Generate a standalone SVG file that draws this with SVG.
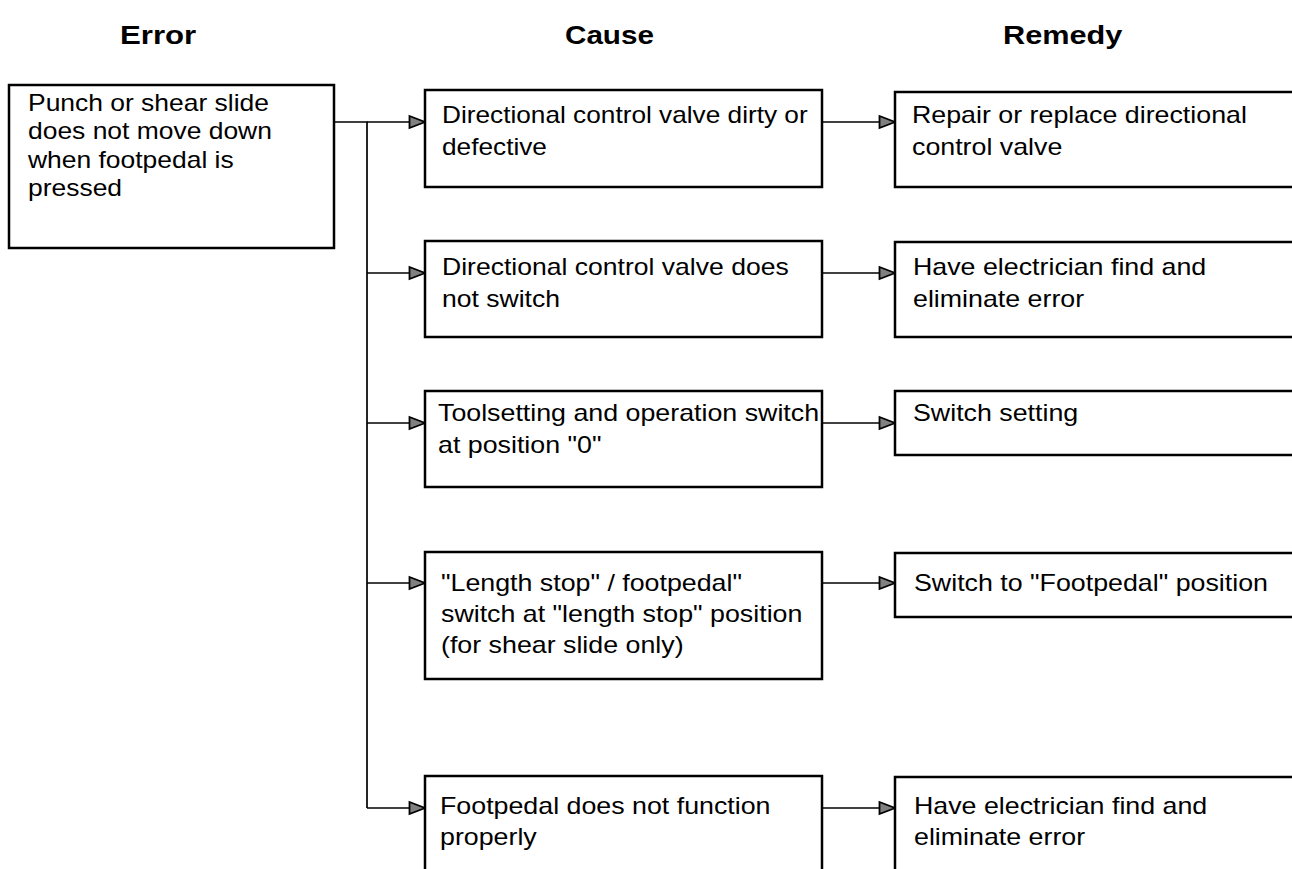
<svg xmlns="http://www.w3.org/2000/svg" width="1292" height="869" viewBox="0 0 1292 869">
<style>
.box{fill:#fff;stroke:#000;stroke-width:2.5}
.t{font-family:"Liberation Sans",Arial,sans-serif;font-size:23px;fill:#000}
.h{font-family:"Liberation Sans",Arial,sans-serif;font-size:26px;font-weight:bold;fill:#000}
.c{fill:none;stroke:#000;stroke-width:1.7}
</style>
<defs>
<marker id="arr" markerUnits="userSpaceOnUse" markerWidth="20" markerHeight="16" refX="17" refY="8" orient="auto">
<path d="M1.5,2 L17,8 L1.5,14 Z" fill="#808080" stroke="#000" stroke-width="1.8" stroke-linejoin="miter"/>
</marker>
</defs>
<rect width="1292" height="869" fill="#fff"/>
<g id="headers">
<text class="h" transform="translate(120 44) scale(1.2 1)">Error</text>
<text class="h" transform="translate(565 44) scale(1.14 1)">Cause</text>
<text class="h" transform="translate(1003 44) scale(1.18 1)">Remedy</text>
</g>
<g id="connectors">
<path class="c" d="M334,122 H367 V808"/>
<path class="c" d="M367,122 H425" marker-end="url(#arr)"/>
<path class="c" d="M367,273 H425" marker-end="url(#arr)"/>
<path class="c" d="M367,423 H425" marker-end="url(#arr)"/>
<path class="c" d="M367,583 H425" marker-end="url(#arr)"/>
<path class="c" d="M367,808 H425" marker-end="url(#arr)"/>
<path class="c" d="M822,122 H895" marker-end="url(#arr)"/>
<path class="c" d="M822,273 H895" marker-end="url(#arr)"/>
<path class="c" d="M822,423 H895" marker-end="url(#arr)"/>
<path class="c" d="M822,583 H895" marker-end="url(#arr)"/>
<path class="c" d="M822,808 H895" marker-end="url(#arr)"/>
</g>
<g id="error">
<rect class="box" x="9" y="85" width="325" height="163"/>
<text class="t" transform="translate(28 111) scale(1.15 1)"><tspan x="0" y="0">Punch or shear slide</tspan><tspan x="0" y="28.5">does not move down</tspan><tspan x="0" y="57">when footpedal is</tspan><tspan x="0" y="85.5">pressed</tspan></text>
</g>
<g id="cause1">
<rect class="box" x="425" y="90" width="397" height="97"/>
<text class="t" transform="translate(442 123) scale(1.14 1)"><tspan x="0" y="0">Directional control valve dirty or</tspan><tspan x="0" y="32">defective</tspan></text>
</g>
<g id="cause2">
<rect class="box" x="425" y="241" width="397" height="96"/>
<text class="t" transform="translate(442 275) scale(1.155 1)"><tspan x="0" y="0">Directional control valve does</tspan><tspan x="0" y="32">not switch</tspan></text>
</g>
<g id="cause3">
<rect class="box" x="425" y="391" width="397" height="96"/>
<text class="t" transform="translate(438 421) scale(1.165 1)"><tspan x="0" y="0">Toolsetting and operation switch</tspan><tspan x="0" y="32">at position "0"</tspan></text>
</g>
<g id="cause4">
<rect class="box" x="425" y="552" width="397" height="127"/>
<text class="t" transform="translate(441 591) scale(1.165 1)"><tspan x="0" y="0">"Length stop" / footpedal"</tspan><tspan x="0" y="31">switch at "length stop" position</tspan><tspan x="0" y="62">(for shear slide only)</tspan></text>
</g>
<g id="cause5">
<rect class="box" x="425" y="776" width="397" height="120"/>
<text class="t" transform="translate(440 814) scale(1.165 1)"><tspan x="0" y="0">Footpedal does not function</tspan><tspan x="0" y="31">properly</tspan></text>
</g>
<g id="remedy1">
<rect class="box" x="895" y="92" width="420" height="95"/>
<text class="t" transform="translate(912 123) scale(1.165 1)"><tspan x="0" y="0">Repair or replace directional</tspan><tspan x="0" y="32">control valve</tspan></text>
</g>
<g id="remedy2">
<rect class="box" x="895" y="242" width="420" height="95"/>
<text class="t" transform="translate(913 275) scale(1.165 1)"><tspan x="0" y="0">Have electrician find and</tspan><tspan x="0" y="32">eliminate error</tspan></text>
</g>
<g id="remedy3">
<rect class="box" x="895" y="391" width="420" height="64"/>
<text class="t" transform="translate(913 421) scale(1.165 1)">Switch setting</text>
</g>
<g id="remedy4">
<rect class="box" x="895" y="553" width="420" height="64"/>
<text class="t" transform="translate(914 591) scale(1.165 1)">Switch to "Footpedal" position</text>
</g>
<g id="remedy5">
<rect class="box" x="895" y="777" width="420" height="120"/>
<text class="t" transform="translate(914 814) scale(1.165 1)"><tspan x="0" y="0">Have electrician find and</tspan><tspan x="0" y="31">eliminate error</tspan></text>
</g>
</svg>
